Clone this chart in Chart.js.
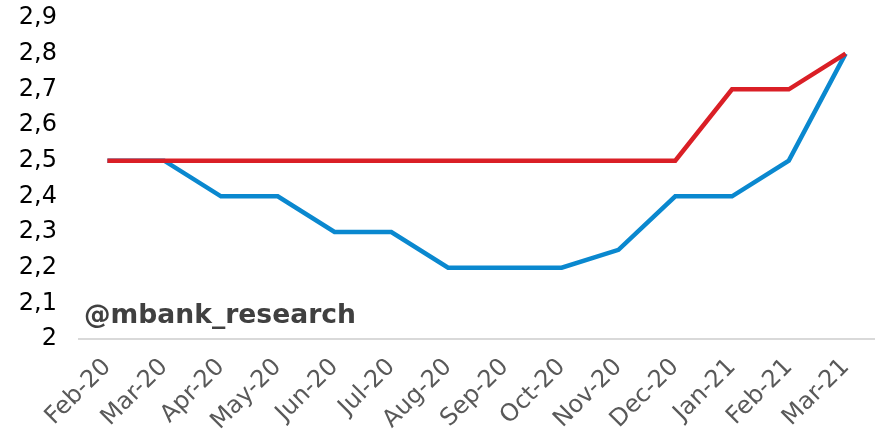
<!DOCTYPE html>
<html>
<head>
<meta charset="utf-8">
<script src="https://cdn.jsdelivr.net/npm/chart.js@4"></script>
<style>
    html, body { margin: 0; padding: 0; background: #fff; }
    #wrap { width: 875px; height: 437px; position: relative; }
</style>
</head>
<body>
<div id="wrap"><canvas id="chart"></canvas></div>
<script>
// dane z wykresu
const months = ['Feb-20', 'Mar-20', 'Apr-20', 'May-20', 'Jun-20', 'Jul-20', 'Aug-20',
    'Sep-20', 'Oct-20', 'Nov-20', 'Dec-20', 'Jan-21', 'Feb-21', 'Mar-21'];
const blueSeries = [2.5, 2.5, 2.4, 2.4, 2.3, 2.3, 2.2, 2.2, 2.2, 2.25, 2.4, 2.4, 2.5, 2.8];
const redSeries = [2.5, 2.5, 2.5, 2.5, 2.5, 2.5, 2.5, 2.5, 2.5, 2.5, 2.5, 2.7, 2.7, 2.8];
const yMin = 2;
const yMax = 2.9;
const yStep = 0.1;
const watermark = '@mbank_research';

// podpis w lewym dolnym rogu
const watermarkPlugin = {
    id: 'watermark',
    afterDraw(chart) {
        const ctx = chart.ctx;
        ctx.save();
        ctx.font = 'bold 26.6px "DejaVu Sans", Verdana, sans-serif';
        ctx.fillStyle = '#404040';
        ctx.textBaseline = 'middle';
        ctx.fillText(watermark, 84, 316);
        ctx.restore();
    }
};

// bez dodatkowych marginesów od etykiet
function noPadding(axis) {
    axis.paddingTop = 0;
    axis.paddingBottom = 0;
    axis.paddingLeft = 0;
    axis.paddingRight = 0;
}

const ctx = document.getElementById('chart');
new Chart(ctx, {
    type: 'line',
    data: {
        labels: months,
        datasets: [
            {
                data: blueSeries,
                borderColor: '#0a88cf',
                borderWidth: 4.5,
                pointRadius: 0,
                tension: 0,
                fill: false,
                order: 2
            },
            {
                data: redSeries,
                borderColor: '#da1f26',
                borderWidth: 4.5,
                pointRadius: 0,
                tension: 0,
                fill: false,
                order: 1
            }
        ]
    },
    options: {
        responsive: true,
        maintainAspectRatio: false,
        animation: false,
        events: [],
        layout: { padding: { top: 18, right: 1, left: 0, bottom: 0 } },
        plugins: {
            legend: { display: false },
            tooltip: { enabled: false }
        },
        scales: {
            x: {
                offset: true,
                grid: { display: false, drawTicks: false },
                border: { display: true, color: '#d9d9d9', width: 2 },
                ticks: {
                    color: '#595959',
                    font: { family: '"DejaVu Sans", Verdana, sans-serif', size: 24 },
                    minRotation: 45,
                    maxRotation: 45,
                    padding: 14,
                    autoSkip: false
                },
                afterFit(axis) {
                    axis.height = 98;
                    noPadding(axis);
                }
            },
            y: {
                min: yMin,
                max: yMax,
                grid: { display: false, drawTicks: false },
                border: { display: false },
                ticks: {
                    stepSize: yStep,
                    color: '#000',
                    padding: 22,
                    font: { family: '"DejaVu Sans", Verdana, sans-serif', size: 24 },
                    callback(value) {
                        const v = Math.round(value * 10) / 10;
                        return Number.isInteger(v) ? String(v) : v.toFixed(1).replace('.', ',');
                    }
                },
                afterFit(axis) {
                    axis.width = 79;
                    noPadding(axis);
                }
            }
        }
    },
    plugins: [watermarkPlugin]
});
</script>
</body>
</html>
